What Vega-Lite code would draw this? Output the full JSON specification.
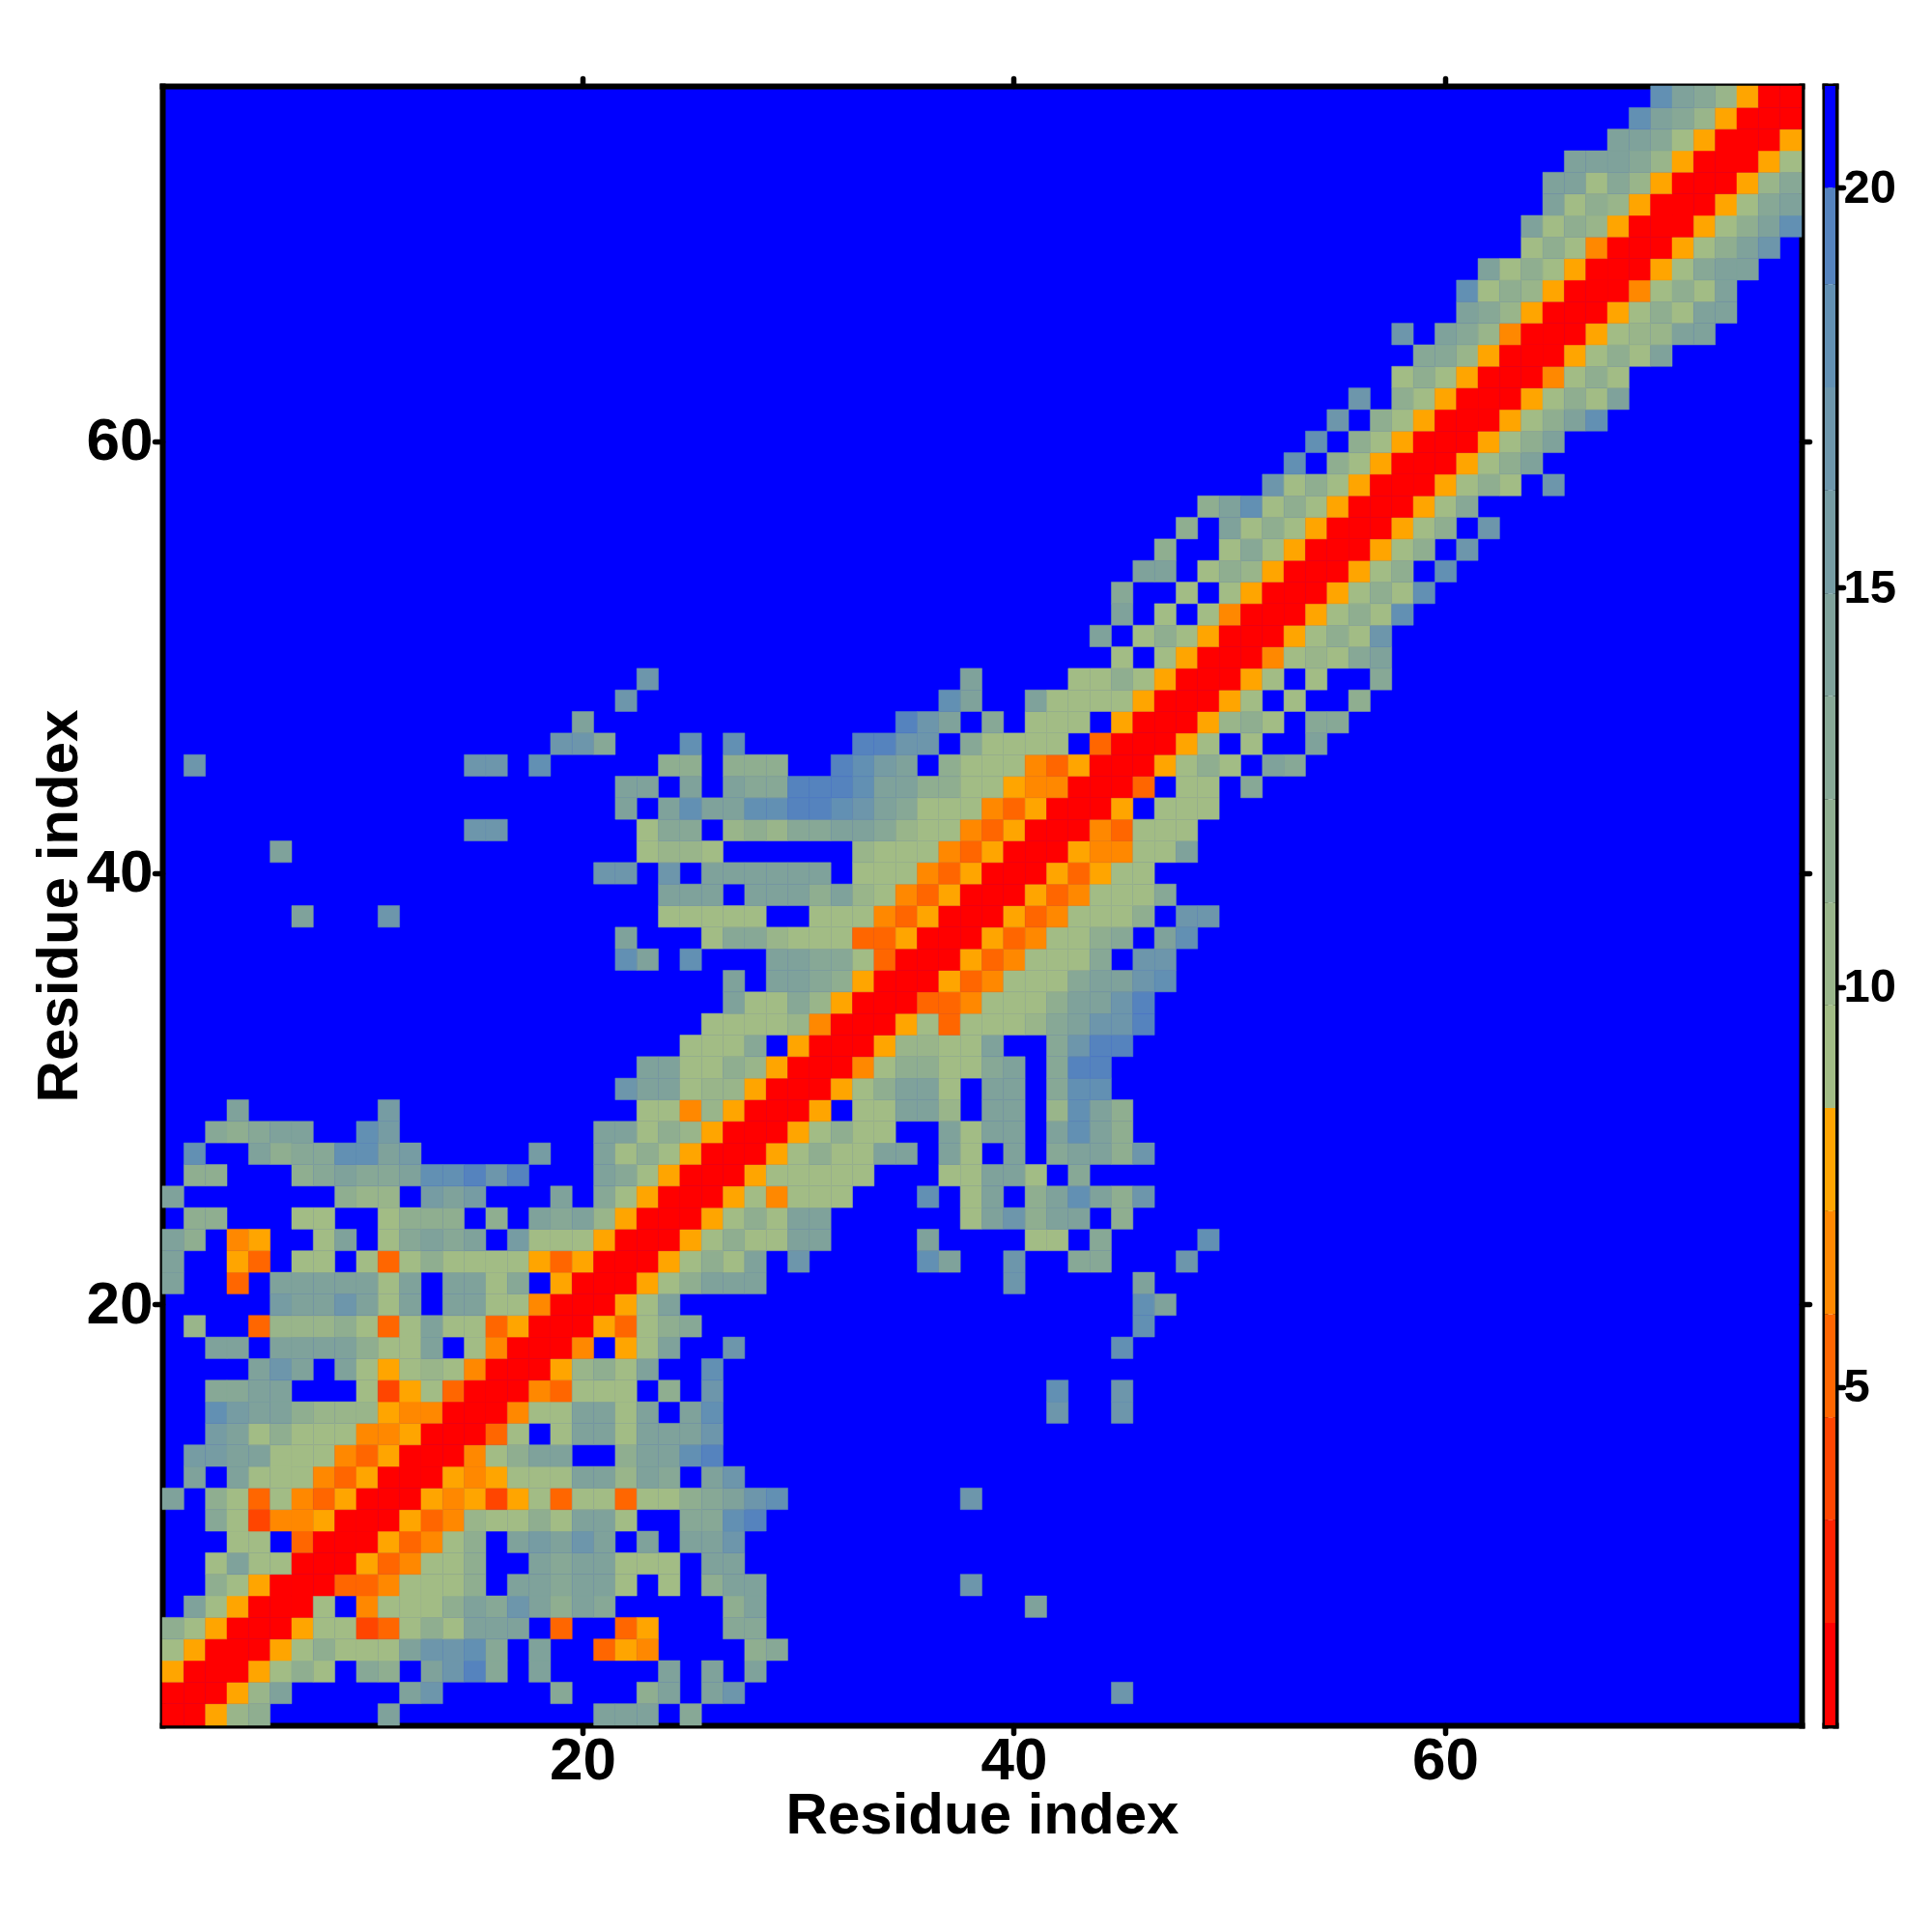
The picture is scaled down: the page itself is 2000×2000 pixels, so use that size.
{"$schema":"https://vega.github.io/schema/vega-lite/v6.json","background":"white","padding":{"left":31,"top":78,"right":10,"bottom":60},"spacing":13,"config":{"view":{"stroke":null},"axis":{"labelFont":"Liberation Sans","labelFontWeight":"bold","labelColor":"black","labelFontSize":62,"labelAngle":0,"labelPadding":2,"titleFont":"Liberation Sans","titleFontWeight":"bold","titleColor":"black","titleFontSize":60,"domainColor":"black","domainWidth":6,"domainCap":"square","tickColor":"black","tickWidth":5.5,"tickCap":"round","tickSize":8,"grid":false,"zindex":1}},"datasets":{"bar":[{"a":0,"b":1,"lo":0.77,"hi":2.05,"d":1.4},{"a":0,"b":1,"lo":2.05,"hi":3.34,"d":2.7},{"a":0,"b":1,"lo":3.34,"hi":4.62,"d":4},{"a":0,"b":1,"lo":4.62,"hi":5.91,"d":5.3},{"a":0,"b":1,"lo":5.91,"hi":7.2,"d":6.5},{"a":0,"b":1,"lo":7.2,"hi":8.49,"d":7.8},{"a":0,"b":1,"lo":8.49,"hi":9.78,"d":9.1},{"a":0,"b":1,"lo":9.78,"hi":11.06,"d":10.4},{"a":0,"b":1,"lo":11.06,"hi":12.35,"d":11.7},{"a":0,"b":1,"lo":12.35,"hi":13.64,"d":13},{"a":0,"b":1,"lo":13.64,"hi":14.92,"d":14.3},{"a":0,"b":1,"lo":14.92,"hi":16.21,"d":15.6},{"a":0,"b":1,"lo":16.21,"hi":17.5,"d":16.9},{"a":0,"b":1,"lo":17.5,"hi":18.79,"d":18.1},{"a":0,"b":1,"lo":18.79,"hi":20,"d":19.4},{"a":0,"b":1,"lo":20,"hi":21.27,"d":20.7}],"cells":[
{"y":1,"x":1,"d":1},{"y":1,"x":2,"d":1},{"y":1,"x":3,"d":8},{"y":1,"x":4,"d":10},{"y":1,"x":5,"d":12},{"y":1,"x":11,"d":14},{"y":1,"x":21,"d":14},{"y":1,"x":22,"d":14},{"y":1,"x":23,"d":14},{"y":1,"x":25,"d":13},
{"y":2,"x":1,"d":1},{"y":2,"x":2,"d":1},{"y":2,"x":3,"d":1},{"y":2,"x":4,"d":8},{"y":2,"x":5,"d":10},{"y":2,"x":6,"d":14},{"y":2,"x":12,"d":14},{"y":2,"x":13,"d":17},{"y":2,"x":19,"d":13},{"y":2,"x":23,"d":12},{"y":2,"x":24,"d":14},{"y":2,"x":26,"d":14},{"y":2,"x":27,"d":17},{"y":2,"x":45,"d":17},
{"y":3,"x":1,"d":8},{"y":3,"x":2,"d":1},{"y":3,"x":3,"d":1},{"y":3,"x":4,"d":1},{"y":3,"x":5,"d":8},{"y":3,"x":6,"d":9},{"y":3,"x":7,"d":12},{"y":3,"x":8,"d":9},{"y":3,"x":10,"d":13},{"y":3,"x":11,"d":12},{"y":3,"x":13,"d":14},{"y":3,"x":14,"d":17},{"y":3,"x":15,"d":19},{"y":3,"x":16,"d":13},{"y":3,"x":18,"d":14},{"y":3,"x":24,"d":14},{"y":3,"x":26,"d":14},{"y":3,"x":28,"d":14},
{"y":4,"x":1,"d":9},{"y":4,"x":2,"d":8},{"y":4,"x":3,"d":1},{"y":4,"x":4,"d":1},{"y":4,"x":5,"d":1},{"y":4,"x":6,"d":8},{"y":4,"x":7,"d":9},{"y":4,"x":8,"d":12},{"y":4,"x":9,"d":9},{"y":4,"x":10,"d":9},{"y":4,"x":11,"d":9},{"y":4,"x":12,"d":14},{"y":4,"x":13,"d":17},{"y":4,"x":14,"d":17},{"y":4,"x":15,"d":18},{"y":4,"x":16,"d":13},{"y":4,"x":18,"d":14},{"y":4,"x":21,"d":5},{"y":4,"x":22,"d":8},{"y":4,"x":23,"d":6},{"y":4,"x":28,"d":12},{"y":4,"x":29,"d":13},
{"y":5,"x":1,"d":12},{"y":5,"x":2,"d":9},{"y":5,"x":3,"d":8},{"y":5,"x":4,"d":1},{"y":5,"x":5,"d":1},{"y":5,"x":6,"d":1},{"y":5,"x":7,"d":8},{"y":5,"x":8,"d":9},{"y":5,"x":9,"d":9},{"y":5,"x":10,"d":4},{"y":5,"x":11,"d":5},{"y":5,"x":12,"d":9},{"y":5,"x":13,"d":12},{"y":5,"x":14,"d":9},{"y":5,"x":15,"d":14},{"y":5,"x":16,"d":14},{"y":5,"x":17,"d":14},{"y":5,"x":19,"d":5},{"y":5,"x":22,"d":5},{"y":5,"x":23,"d":8},{"y":5,"x":27,"d":13},{"y":5,"x":28,"d":13},
{"y":6,"x":2,"d":14},{"y":6,"x":3,"d":9},{"y":6,"x":4,"d":8},{"y":6,"x":5,"d":1},{"y":6,"x":6,"d":1},{"y":6,"x":7,"d":1},{"y":6,"x":8,"d":9},{"y":6,"x":10,"d":6},{"y":6,"x":11,"d":9},{"y":6,"x":12,"d":9},{"y":6,"x":13,"d":9},{"y":6,"x":14,"d":12},{"y":6,"x":15,"d":14},{"y":6,"x":16,"d":13},{"y":6,"x":17,"d":17},{"y":6,"x":18,"d":14},{"y":6,"x":19,"d":12},{"y":6,"x":20,"d":14},{"y":6,"x":21,"d":13},{"y":6,"x":27,"d":12},{"y":6,"x":28,"d":14},{"y":6,"x":41,"d":14},
{"y":7,"x":3,"d":12},{"y":7,"x":4,"d":9},{"y":7,"x":5,"d":8},{"y":7,"x":6,"d":1},{"y":7,"x":7,"d":1},{"y":7,"x":8,"d":1},{"y":7,"x":9,"d":5},{"y":7,"x":10,"d":5},{"y":7,"x":11,"d":6},{"y":7,"x":12,"d":9},{"y":7,"x":13,"d":9},{"y":7,"x":14,"d":9},{"y":7,"x":15,"d":12},{"y":7,"x":17,"d":14},{"y":7,"x":18,"d":14},{"y":7,"x":19,"d":13},{"y":7,"x":20,"d":14},{"y":7,"x":21,"d":14},{"y":7,"x":22,"d":9},{"y":7,"x":24,"d":9},{"y":7,"x":26,"d":12},{"y":7,"x":27,"d":14},{"y":7,"x":28,"d":14},{"y":7,"x":38,"d":17},
{"y":8,"x":3,"d":9},{"y":8,"x":4,"d":14},{"y":8,"x":5,"d":9},{"y":8,"x":6,"d":9},{"y":8,"x":7,"d":1},{"y":8,"x":8,"d":1},{"y":8,"x":9,"d":1},{"y":8,"x":10,"d":8},{"y":8,"x":11,"d":5},{"y":8,"x":12,"d":6},{"y":8,"x":13,"d":9},{"y":8,"x":14,"d":9},{"y":8,"x":15,"d":12},{"y":8,"x":18,"d":14},{"y":8,"x":19,"d":13},{"y":8,"x":20,"d":14},{"y":8,"x":21,"d":14},{"y":8,"x":22,"d":9},{"y":8,"x":23,"d":9},{"y":8,"x":24,"d":9},{"y":8,"x":26,"d":14},{"y":8,"x":27,"d":14},
{"y":9,"x":4,"d":9},{"y":9,"x":5,"d":9},{"y":9,"x":7,"d":5},{"y":9,"x":8,"d":1},{"y":9,"x":9,"d":1},{"y":9,"x":10,"d":1},{"y":9,"x":11,"d":8},{"y":9,"x":12,"d":5},{"y":9,"x":13,"d":6},{"y":9,"x":14,"d":9},{"y":9,"x":15,"d":12},{"y":9,"x":17,"d":14},{"y":9,"x":18,"d":15},{"y":9,"x":19,"d":14},{"y":9,"x":20,"d":17},{"y":9,"x":21,"d":14},{"y":9,"x":23,"d":14},{"y":9,"x":25,"d":14},{"y":9,"x":26,"d":14},{"y":9,"x":27,"d":17},
{"y":10,"x":3,"d":13},{"y":10,"x":4,"d":9},{"y":10,"x":5,"d":4},{"y":10,"x":6,"d":6},{"y":10,"x":7,"d":6},{"y":10,"x":8,"d":8},{"y":10,"x":9,"d":1},{"y":10,"x":10,"d":1},{"y":10,"x":11,"d":1},{"y":10,"x":12,"d":8},{"y":10,"x":13,"d":5},{"y":10,"x":14,"d":6},{"y":10,"x":15,"d":10},{"y":10,"x":16,"d":9},{"y":10,"x":17,"d":9},{"y":10,"x":18,"d":12},{"y":10,"x":19,"d":9},{"y":10,"x":20,"d":14},{"y":10,"x":21,"d":14},{"y":10,"x":22,"d":9},{"y":10,"x":25,"d":13},{"y":10,"x":26,"d":13},{"y":10,"x":27,"d":18},{"y":10,"x":28,"d":19},
{"y":11,"x":1,"d":14},{"y":11,"x":3,"d":12},{"y":11,"x":4,"d":9},{"y":11,"x":5,"d":5},{"y":11,"x":6,"d":9},{"y":11,"x":7,"d":6},{"y":11,"x":8,"d":5},{"y":11,"x":9,"d":8},{"y":11,"x":10,"d":1},{"y":11,"x":11,"d":1},{"y":11,"x":12,"d":1},{"y":11,"x":13,"d":8},{"y":11,"x":14,"d":6},{"y":11,"x":15,"d":8},{"y":11,"x":16,"d":4},{"y":11,"x":17,"d":8},{"y":11,"x":18,"d":9},{"y":11,"x":19,"d":5},{"y":11,"x":20,"d":9},{"y":11,"x":21,"d":9},{"y":11,"x":22,"d":5},{"y":11,"x":23,"d":9},{"y":11,"x":24,"d":9},{"y":11,"x":25,"d":12},{"y":11,"x":26,"d":13},{"y":11,"x":27,"d":14},{"y":11,"x":28,"d":17},{"y":11,"x":29,"d":18},{"y":11,"x":38,"d":17},
{"y":12,"x":2,"d":14},{"y":12,"x":4,"d":14},{"y":12,"x":5,"d":9},{"y":12,"x":6,"d":9},{"y":12,"x":7,"d":9},{"y":12,"x":8,"d":6},{"y":12,"x":9,"d":5},{"y":12,"x":10,"d":8},{"y":12,"x":11,"d":1},{"y":12,"x":12,"d":1},{"y":12,"x":13,"d":1},{"y":12,"x":14,"d":8},{"y":12,"x":15,"d":6},{"y":12,"x":16,"d":8},{"y":12,"x":17,"d":9},{"y":12,"x":18,"d":9},{"y":12,"x":19,"d":9},{"y":12,"x":20,"d":14},{"y":12,"x":21,"d":14},{"y":12,"x":22,"d":10},{"y":12,"x":23,"d":14},{"y":12,"x":24,"d":13},{"y":12,"x":26,"d":14},{"y":12,"x":27,"d":17},
{"y":13,"x":2,"d":15},{"y":13,"x":3,"d":15},{"y":13,"x":4,"d":14},{"y":13,"x":5,"d":14},{"y":13,"x":6,"d":9},{"y":13,"x":7,"d":9},{"y":13,"x":8,"d":9},{"y":13,"x":9,"d":6},{"y":13,"x":10,"d":5},{"y":13,"x":11,"d":8},{"y":13,"x":12,"d":1},{"y":13,"x":13,"d":1},{"y":13,"x":14,"d":1},{"y":13,"x":15,"d":6},{"y":13,"x":16,"d":9},{"y":13,"x":17,"d":12},{"y":13,"x":18,"d":14},{"y":13,"x":19,"d":14},{"y":13,"x":22,"d":12},{"y":13,"x":23,"d":14},{"y":13,"x":24,"d":14},{"y":13,"x":25,"d":18},{"y":13,"x":26,"d":19},
{"y":14,"x":3,"d":15},{"y":14,"x":4,"d":14},{"y":14,"x":5,"d":9},{"y":14,"x":6,"d":12},{"y":14,"x":7,"d":9},{"y":14,"x":8,"d":9},{"y":14,"x":9,"d":9},{"y":14,"x":10,"d":6},{"y":14,"x":11,"d":6},{"y":14,"x":12,"d":8},{"y":14,"x":13,"d":1},{"y":14,"x":14,"d":1},{"y":14,"x":15,"d":1},{"y":14,"x":16,"d":5},{"y":14,"x":17,"d":9},{"y":14,"x":19,"d":9},{"y":14,"x":20,"d":14},{"y":14,"x":21,"d":14},{"y":14,"x":22,"d":9},{"y":14,"x":23,"d":14},{"y":14,"x":24,"d":14},{"y":14,"x":25,"d":14},{"y":14,"x":26,"d":17},
{"y":15,"x":3,"d":18},{"y":15,"x":4,"d":15},{"y":15,"x":5,"d":14},{"y":15,"x":6,"d":14},{"y":15,"x":7,"d":12},{"y":15,"x":8,"d":10},{"y":15,"x":9,"d":10},{"y":15,"x":10,"d":10},{"y":15,"x":11,"d":8},{"y":15,"x":12,"d":6},{"y":15,"x":13,"d":6},{"y":15,"x":14,"d":1},{"y":15,"x":15,"d":1},{"y":15,"x":16,"d":1},{"y":15,"x":17,"d":6},{"y":15,"x":18,"d":9},{"y":15,"x":19,"d":9},{"y":15,"x":20,"d":14},{"y":15,"x":21,"d":14},{"y":15,"x":22,"d":9},{"y":15,"x":23,"d":14},{"y":15,"x":25,"d":14},{"y":15,"x":26,"d":18},{"y":15,"x":42,"d":17},{"y":15,"x":45,"d":17},
{"y":16,"x":3,"d":13},{"y":16,"x":4,"d":13},{"y":16,"x":5,"d":14},{"y":16,"x":6,"d":14},{"y":16,"x":10,"d":9},{"y":16,"x":11,"d":4},{"y":16,"x":12,"d":8},{"y":16,"x":13,"d":9},{"y":16,"x":14,"d":5},{"y":16,"x":15,"d":1},{"y":16,"x":16,"d":1},{"y":16,"x":17,"d":1},{"y":16,"x":18,"d":6},{"y":16,"x":19,"d":5},{"y":16,"x":20,"d":9},{"y":16,"x":21,"d":9},{"y":16,"x":22,"d":9},{"y":16,"x":24,"d":12},{"y":16,"x":26,"d":17},{"y":16,"x":42,"d":18},{"y":16,"x":45,"d":17},
{"y":17,"x":5,"d":14},{"y":17,"x":6,"d":17},{"y":17,"x":7,"d":14},{"y":17,"x":9,"d":14},{"y":17,"x":10,"d":9},{"y":17,"x":11,"d":8},{"y":17,"x":12,"d":9},{"y":17,"x":13,"d":10},{"y":17,"x":14,"d":9},{"y":17,"x":15,"d":6},{"y":17,"x":16,"d":1},{"y":17,"x":17,"d":1},{"y":17,"x":18,"d":1},{"y":17,"x":19,"d":8},{"y":17,"x":20,"d":10},{"y":17,"x":21,"d":12},{"y":17,"x":22,"d":9},{"y":17,"x":23,"d":14},{"y":17,"x":26,"d":18},
{"y":18,"x":3,"d":14},{"y":18,"x":4,"d":14},{"y":18,"x":6,"d":14},{"y":18,"x":7,"d":14},{"y":18,"x":8,"d":14},{"y":18,"x":9,"d":14},{"y":18,"x":10,"d":12},{"y":18,"x":11,"d":9},{"y":18,"x":12,"d":9},{"y":18,"x":13,"d":14},{"y":18,"x":15,"d":9},{"y":18,"x":16,"d":6},{"y":18,"x":17,"d":1},{"y":18,"x":18,"d":1},{"y":18,"x":19,"d":1},{"y":18,"x":20,"d":6},{"y":18,"x":22,"d":8},{"y":18,"x":23,"d":9},{"y":18,"x":24,"d":14},{"y":18,"x":27,"d":17},{"y":18,"x":45,"d":18},
{"y":19,"x":2,"d":10},{"y":19,"x":5,"d":5},{"y":19,"x":6,"d":10},{"y":19,"x":7,"d":10},{"y":19,"x":8,"d":10},{"y":19,"x":9,"d":12},{"y":19,"x":10,"d":9},{"y":19,"x":11,"d":5},{"y":19,"x":12,"d":9},{"y":19,"x":13,"d":14},{"y":19,"x":14,"d":9},{"y":19,"x":15,"d":9},{"y":19,"x":16,"d":5},{"y":19,"x":17,"d":8},{"y":19,"x":18,"d":1},{"y":19,"x":19,"d":1},{"y":19,"x":20,"d":1},{"y":19,"x":21,"d":8},{"y":19,"x":22,"d":5},{"y":19,"x":23,"d":9},{"y":19,"x":24,"d":12},{"y":19,"x":25,"d":13},{"y":19,"x":46,"d":18},
{"y":20,"x":6,"d":15},{"y":20,"x":7,"d":14},{"y":20,"x":8,"d":14},{"y":20,"x":9,"d":17},{"y":20,"x":10,"d":14},{"y":20,"x":11,"d":9},{"y":20,"x":12,"d":14},{"y":20,"x":14,"d":14},{"y":20,"x":15,"d":14},{"y":20,"x":16,"d":9},{"y":20,"x":17,"d":9},{"y":20,"x":18,"d":6},{"y":20,"x":19,"d":1},{"y":20,"x":20,"d":1},{"y":20,"x":21,"d":1},{"y":20,"x":22,"d":8},{"y":20,"x":23,"d":9},{"y":20,"x":24,"d":14},{"y":20,"x":46,"d":18},{"y":20,"x":47,"d":14},
{"y":21,"x":1,"d":14},{"y":21,"x":4,"d":5},{"y":21,"x":6,"d":14},{"y":21,"x":7,"d":14},{"y":21,"x":8,"d":14},{"y":21,"x":9,"d":14},{"y":21,"x":10,"d":14},{"y":21,"x":11,"d":9},{"y":21,"x":12,"d":14},{"y":21,"x":14,"d":14},{"y":21,"x":15,"d":14},{"y":21,"x":16,"d":9},{"y":21,"x":17,"d":13},{"y":21,"x":19,"d":8},{"y":21,"x":20,"d":1},{"y":21,"x":21,"d":1},{"y":21,"x":22,"d":1},{"y":21,"x":23,"d":8},{"y":21,"x":24,"d":9},{"y":21,"x":25,"d":12},{"y":21,"x":26,"d":14},{"y":21,"x":27,"d":14},{"y":21,"x":28,"d":14},{"y":21,"x":40,"d":17},{"y":21,"x":46,"d":14},
{"y":22,"x":1,"d":14},{"y":22,"x":4,"d":8},{"y":22,"x":5,"d":5},{"y":22,"x":7,"d":9},{"y":22,"x":8,"d":9},{"y":22,"x":10,"d":9},{"y":22,"x":11,"d":5},{"y":22,"x":12,"d":9},{"y":22,"x":13,"d":12},{"y":22,"x":14,"d":9},{"y":22,"x":15,"d":9},{"y":22,"x":16,"d":9},{"y":22,"x":17,"d":9},{"y":22,"x":18,"d":8},{"y":22,"x":19,"d":5},{"y":22,"x":20,"d":8},{"y":22,"x":21,"d":1},{"y":22,"x":22,"d":1},{"y":22,"x":23,"d":1},{"y":22,"x":24,"d":8},{"y":22,"x":25,"d":9},{"y":22,"x":26,"d":12},{"y":22,"x":27,"d":9},{"y":22,"x":28,"d":14},{"y":22,"x":30,"d":17},{"y":22,"x":36,"d":18},{"y":22,"x":37,"d":14},{"y":22,"x":40,"d":17},{"y":22,"x":43,"d":13},{"y":22,"x":44,"d":13},{"y":22,"x":48,"d":17},
{"y":23,"x":1,"d":14},{"y":23,"x":2,"d":12},{"y":23,"x":4,"d":6},{"y":23,"x":5,"d":8},{"y":23,"x":8,"d":9},{"y":23,"x":9,"d":14},{"y":23,"x":11,"d":9},{"y":23,"x":12,"d":13},{"y":23,"x":13,"d":14},{"y":23,"x":14,"d":13},{"y":23,"x":15,"d":14},{"y":23,"x":17,"d":15},{"y":23,"x":18,"d":9},{"y":23,"x":19,"d":9},{"y":23,"x":20,"d":9},{"y":23,"x":21,"d":8},{"y":23,"x":22,"d":1},{"y":23,"x":23,"d":1},{"y":23,"x":24,"d":1},{"y":23,"x":25,"d":8},{"y":23,"x":26,"d":9},{"y":23,"x":27,"d":12},{"y":23,"x":28,"d":9},{"y":23,"x":29,"d":9},{"y":23,"x":30,"d":14},{"y":23,"x":31,"d":14},{"y":23,"x":36,"d":14},{"y":23,"x":41,"d":9},{"y":23,"x":42,"d":9},{"y":23,"x":44,"d":13},{"y":23,"x":49,"d":18},
{"y":24,"x":2,"d":12},{"y":24,"x":3,"d":12},{"y":24,"x":7,"d":9},{"y":24,"x":8,"d":9},{"y":24,"x":11,"d":9},{"y":24,"x":12,"d":12},{"y":24,"x":13,"d":12},{"y":24,"x":14,"d":12},{"y":24,"x":16,"d":12},{"y":24,"x":18,"d":14},{"y":24,"x":19,"d":13},{"y":24,"x":20,"d":14},{"y":24,"x":21,"d":10},{"y":24,"x":22,"d":8},{"y":24,"x":23,"d":1},{"y":24,"x":24,"d":1},{"y":24,"x":25,"d":1},{"y":24,"x":26,"d":8},{"y":24,"x":27,"d":9},{"y":24,"x":28,"d":12},{"y":24,"x":29,"d":9},{"y":24,"x":30,"d":14},{"y":24,"x":31,"d":14},{"y":24,"x":38,"d":9},{"y":24,"x":39,"d":14},{"y":24,"x":40,"d":17},{"y":24,"x":41,"d":12},{"y":24,"x":42,"d":14},{"y":24,"x":43,"d":14},{"y":24,"x":45,"d":12},
{"y":25,"x":1,"d":14},{"y":25,"x":9,"d":12},{"y":25,"x":10,"d":10},{"y":25,"x":11,"d":10},{"y":25,"x":13,"d":15},{"y":25,"x":14,"d":14},{"y":25,"x":15,"d":15},{"y":25,"x":19,"d":14},{"y":25,"x":21,"d":13},{"y":25,"x":22,"d":9},{"y":25,"x":23,"d":8},{"y":25,"x":24,"d":1},{"y":25,"x":25,"d":1},{"y":25,"x":26,"d":1},{"y":25,"x":27,"d":8},{"y":25,"x":28,"d":9},{"y":25,"x":29,"d":6},{"y":25,"x":30,"d":9},{"y":25,"x":31,"d":9},{"y":25,"x":32,"d":9},{"y":25,"x":36,"d":18},{"y":25,"x":38,"d":9},{"y":25,"x":39,"d":14},{"y":25,"x":41,"d":12},{"y":25,"x":42,"d":14},{"y":25,"x":43,"d":18},{"y":25,"x":44,"d":14},{"y":25,"x":45,"d":12},{"y":25,"x":46,"d":17},
{"y":26,"x":2,"d":12},{"y":26,"x":3,"d":12},{"y":26,"x":7,"d":12},{"y":26,"x":8,"d":13},{"y":26,"x":9,"d":14},{"y":26,"x":10,"d":13},{"y":26,"x":11,"d":13},{"y":26,"x":12,"d":14},{"y":26,"x":13,"d":18},{"y":26,"x":14,"d":18},{"y":26,"x":15,"d":19},{"y":26,"x":16,"d":17},{"y":26,"x":17,"d":19},{"y":26,"x":21,"d":14},{"y":26,"x":22,"d":13},{"y":26,"x":23,"d":9},{"y":26,"x":24,"d":8},{"y":26,"x":25,"d":1},{"y":26,"x":26,"d":1},{"y":26,"x":27,"d":1},{"y":26,"x":28,"d":8},{"y":26,"x":29,"d":9},{"y":26,"x":30,"d":9},{"y":26,"x":31,"d":9},{"y":26,"x":32,"d":9},{"y":26,"x":33,"d":9},{"y":26,"x":37,"d":9},{"y":26,"x":38,"d":9},{"y":26,"x":39,"d":14},{"y":26,"x":40,"d":14},{"y":26,"x":41,"d":9},{"y":26,"x":43,"d":13},
{"y":27,"x":2,"d":18},{"y":27,"x":5,"d":14},{"y":27,"x":6,"d":12},{"y":27,"x":7,"d":13},{"y":27,"x":8,"d":13},{"y":27,"x":9,"d":18},{"y":27,"x":10,"d":18},{"y":27,"x":11,"d":14},{"y":27,"x":12,"d":15},{"y":27,"x":18,"d":15},{"y":27,"x":21,"d":14},{"y":27,"x":22,"d":9},{"y":27,"x":23,"d":12},{"y":27,"x":24,"d":9},{"y":27,"x":25,"d":8},{"y":27,"x":26,"d":1},{"y":27,"x":27,"d":1},{"y":27,"x":28,"d":1},{"y":27,"x":29,"d":8},{"y":27,"x":30,"d":9},{"y":27,"x":31,"d":12},{"y":27,"x":32,"d":9},{"y":27,"x":33,"d":9},{"y":27,"x":34,"d":14},{"y":27,"x":35,"d":14},{"y":27,"x":37,"d":14},{"y":27,"x":38,"d":9},{"y":27,"x":40,"d":14},{"y":27,"x":42,"d":13},{"y":27,"x":43,"d":14},{"y":27,"x":44,"d":14},{"y":27,"x":45,"d":12},{"y":27,"x":46,"d":17},
{"y":28,"x":3,"d":13},{"y":28,"x":4,"d":12},{"y":28,"x":5,"d":13},{"y":28,"x":6,"d":14},{"y":28,"x":7,"d":14},{"y":28,"x":10,"d":18},{"y":28,"x":11,"d":15},{"y":28,"x":21,"d":14},{"y":28,"x":22,"d":14},{"y":28,"x":23,"d":9},{"y":28,"x":24,"d":12},{"y":28,"x":25,"d":10},{"y":28,"x":26,"d":8},{"y":28,"x":27,"d":1},{"y":28,"x":28,"d":1},{"y":28,"x":29,"d":1},{"y":28,"x":30,"d":8},{"y":28,"x":31,"d":9},{"y":28,"x":32,"d":12},{"y":28,"x":33,"d":9},{"y":28,"x":34,"d":9},{"y":28,"x":37,"d":14},{"y":28,"x":38,"d":9},{"y":28,"x":39,"d":14},{"y":28,"x":40,"d":14},{"y":28,"x":42,"d":14},{"y":28,"x":43,"d":18},{"y":28,"x":44,"d":14},{"y":28,"x":45,"d":12},
{"y":29,"x":4,"d":14},{"y":29,"x":11,"d":15},{"y":29,"x":23,"d":9},{"y":29,"x":24,"d":9},{"y":29,"x":25,"d":6},{"y":29,"x":26,"d":10},{"y":29,"x":27,"d":8},{"y":29,"x":28,"d":1},{"y":29,"x":29,"d":1},{"y":29,"x":30,"d":1},{"y":29,"x":31,"d":8},{"y":29,"x":33,"d":9},{"y":29,"x":34,"d":9},{"y":29,"x":35,"d":14},{"y":29,"x":36,"d":14},{"y":29,"x":37,"d":10},{"y":29,"x":39,"d":14},{"y":29,"x":40,"d":14},{"y":29,"x":42,"d":10},{"y":29,"x":43,"d":18},{"y":29,"x":44,"d":14},{"y":29,"x":45,"d":12},
{"y":30,"x":22,"d":17},{"y":30,"x":23,"d":14},{"y":30,"x":24,"d":14},{"y":30,"x":25,"d":9},{"y":30,"x":26,"d":10},{"y":30,"x":27,"d":10},{"y":30,"x":28,"d":8},{"y":30,"x":29,"d":1},{"y":30,"x":30,"d":1},{"y":30,"x":31,"d":1},{"y":30,"x":32,"d":8},{"y":30,"x":33,"d":9},{"y":30,"x":34,"d":12},{"y":30,"x":35,"d":14},{"y":30,"x":36,"d":14},{"y":30,"x":37,"d":9},{"y":30,"x":39,"d":14},{"y":30,"x":40,"d":14},{"y":30,"x":42,"d":13},{"y":30,"x":43,"d":18},{"y":30,"x":44,"d":18},
{"y":31,"x":23,"d":14},{"y":31,"x":24,"d":14},{"y":31,"x":25,"d":9},{"y":31,"x":26,"d":9},{"y":31,"x":27,"d":12},{"y":31,"x":28,"d":10},{"y":31,"x":29,"d":8},{"y":31,"x":30,"d":1},{"y":31,"x":31,"d":1},{"y":31,"x":32,"d":1},{"y":31,"x":33,"d":6},{"y":31,"x":34,"d":9},{"y":31,"x":35,"d":12},{"y":31,"x":36,"d":12},{"y":31,"x":37,"d":9},{"y":31,"x":38,"d":9},{"y":31,"x":39,"d":13},{"y":31,"x":40,"d":14},{"y":31,"x":42,"d":13},{"y":31,"x":43,"d":19},{"y":31,"x":44,"d":19},
{"y":32,"x":25,"d":9},{"y":32,"x":26,"d":9},{"y":32,"x":27,"d":9},{"y":32,"x":28,"d":13},{"y":32,"x":30,"d":8},{"y":32,"x":31,"d":1},{"y":32,"x":32,"d":1},{"y":32,"x":33,"d":1},{"y":32,"x":34,"d":8},{"y":32,"x":35,"d":10},{"y":32,"x":36,"d":10},{"y":32,"x":37,"d":9},{"y":32,"x":38,"d":9},{"y":32,"x":39,"d":14},{"y":32,"x":42,"d":13},{"y":32,"x":43,"d":17},{"y":32,"x":44,"d":19},{"y":32,"x":45,"d":19},
{"y":33,"x":26,"d":9},{"y":33,"x":27,"d":9},{"y":33,"x":28,"d":9},{"y":33,"x":29,"d":9},{"y":33,"x":30,"d":10},{"y":33,"x":31,"d":6},{"y":33,"x":32,"d":1},{"y":33,"x":33,"d":1},{"y":33,"x":34,"d":1},{"y":33,"x":35,"d":8},{"y":33,"x":36,"d":9},{"y":33,"x":37,"d":5},{"y":33,"x":38,"d":9},{"y":33,"x":39,"d":9},{"y":33,"x":40,"d":9},{"y":33,"x":41,"d":10},{"y":33,"x":42,"d":13},{"y":33,"x":43,"d":14},{"y":33,"x":44,"d":17},{"y":33,"x":45,"d":17},{"y":33,"x":46,"d":19},
{"y":34,"x":27,"d":14},{"y":34,"x":28,"d":9},{"y":34,"x":29,"d":9},{"y":34,"x":30,"d":13},{"y":34,"x":31,"d":10},{"y":34,"x":32,"d":8},{"y":34,"x":33,"d":1},{"y":34,"x":34,"d":1},{"y":34,"x":35,"d":1},{"y":34,"x":36,"d":5},{"y":34,"x":37,"d":5},{"y":34,"x":38,"d":6},{"y":34,"x":39,"d":9},{"y":34,"x":40,"d":9},{"y":34,"x":41,"d":9},{"y":34,"x":42,"d":12},{"y":34,"x":43,"d":14},{"y":34,"x":44,"d":14},{"y":34,"x":45,"d":17},{"y":34,"x":46,"d":19},
{"y":35,"x":27,"d":14},{"y":35,"x":29,"d":14},{"y":35,"x":30,"d":14},{"y":35,"x":31,"d":13},{"y":35,"x":32,"d":12},{"y":35,"x":33,"d":8},{"y":35,"x":34,"d":1},{"y":35,"x":35,"d":1},{"y":35,"x":36,"d":1},{"y":35,"x":37,"d":8},{"y":35,"x":38,"d":5},{"y":35,"x":39,"d":6},{"y":35,"x":40,"d":9},{"y":35,"x":41,"d":9},{"y":35,"x":42,"d":9},{"y":35,"x":43,"d":13},{"y":35,"x":44,"d":14},{"y":35,"x":45,"d":14},{"y":35,"x":46,"d":17},{"y":35,"x":47,"d":18},
{"y":36,"x":22,"d":18},{"y":36,"x":23,"d":14},{"y":36,"x":25,"d":18},{"y":36,"x":29,"d":14},{"y":36,"x":30,"d":14},{"y":36,"x":31,"d":13},{"y":36,"x":32,"d":13},{"y":36,"x":33,"d":9},{"y":36,"x":34,"d":5},{"y":36,"x":35,"d":1},{"y":36,"x":36,"d":1},{"y":36,"x":37,"d":1},{"y":36,"x":38,"d":8},{"y":36,"x":39,"d":5},{"y":36,"x":40,"d":6},{"y":36,"x":41,"d":9},{"y":36,"x":42,"d":9},{"y":36,"x":43,"d":9},{"y":36,"x":44,"d":13},{"y":36,"x":46,"d":17},{"y":36,"x":47,"d":17},
{"y":37,"x":22,"d":14},{"y":37,"x":26,"d":9},{"y":37,"x":27,"d":13},{"y":37,"x":28,"d":13},{"y":37,"x":29,"d":10},{"y":37,"x":30,"d":9},{"y":37,"x":31,"d":9},{"y":37,"x":32,"d":9},{"y":37,"x":33,"d":5},{"y":37,"x":34,"d":5},{"y":37,"x":35,"d":8},{"y":37,"x":36,"d":1},{"y":37,"x":37,"d":1},{"y":37,"x":38,"d":1},{"y":37,"x":39,"d":8},{"y":37,"x":40,"d":5},{"y":37,"x":41,"d":6},{"y":37,"x":42,"d":9},{"y":37,"x":43,"d":9},{"y":37,"x":44,"d":12},{"y":37,"x":45,"d":13},{"y":37,"x":47,"d":14},{"y":37,"x":48,"d":18},
{"y":38,"x":7,"d":14},{"y":38,"x":11,"d":17},{"y":38,"x":24,"d":9},{"y":38,"x":25,"d":9},{"y":38,"x":26,"d":9},{"y":38,"x":27,"d":9},{"y":38,"x":28,"d":9},{"y":38,"x":31,"d":9},{"y":38,"x":32,"d":9},{"y":38,"x":33,"d":9},{"y":38,"x":34,"d":6},{"y":38,"x":35,"d":5},{"y":38,"x":36,"d":8},{"y":38,"x":37,"d":1},{"y":38,"x":38,"d":1},{"y":38,"x":39,"d":1},{"y":38,"x":40,"d":8},{"y":38,"x":41,"d":5},{"y":38,"x":42,"d":6},{"y":38,"x":43,"d":9},{"y":38,"x":44,"d":9},{"y":38,"x":45,"d":9},{"y":38,"x":46,"d":12},{"y":38,"x":48,"d":17},{"y":38,"x":49,"d":17},
{"y":39,"x":24,"d":14},{"y":39,"x":25,"d":14},{"y":39,"x":26,"d":14},{"y":39,"x":28,"d":14},{"y":39,"x":29,"d":14},{"y":39,"x":30,"d":14},{"y":39,"x":31,"d":12},{"y":39,"x":32,"d":14},{"y":39,"x":33,"d":10},{"y":39,"x":34,"d":9},{"y":39,"x":35,"d":6},{"y":39,"x":36,"d":5},{"y":39,"x":37,"d":8},{"y":39,"x":38,"d":1},{"y":39,"x":39,"d":1},{"y":39,"x":40,"d":1},{"y":39,"x":41,"d":8},{"y":39,"x":42,"d":5},{"y":39,"x":43,"d":6},{"y":39,"x":44,"d":9},{"y":39,"x":45,"d":9},{"y":39,"x":46,"d":9},{"y":39,"x":47,"d":13},
{"y":40,"x":21,"d":17},{"y":40,"x":22,"d":17},{"y":40,"x":24,"d":17},{"y":40,"x":26,"d":14},{"y":40,"x":27,"d":14},{"y":40,"x":28,"d":14},{"y":40,"x":29,"d":14},{"y":40,"x":30,"d":14},{"y":40,"x":31,"d":14},{"y":40,"x":33,"d":9},{"y":40,"x":34,"d":9},{"y":40,"x":35,"d":9},{"y":40,"x":36,"d":6},{"y":40,"x":37,"d":5},{"y":40,"x":38,"d":8},{"y":40,"x":39,"d":1},{"y":40,"x":40,"d":1},{"y":40,"x":41,"d":1},{"y":40,"x":42,"d":8},{"y":40,"x":43,"d":5},{"y":40,"x":44,"d":8},{"y":40,"x":45,"d":9},{"y":40,"x":46,"d":9},
{"y":41,"x":6,"d":14},{"y":41,"x":23,"d":9},{"y":41,"x":24,"d":10},{"y":41,"x":25,"d":10},{"y":41,"x":26,"d":9},{"y":41,"x":33,"d":10},{"y":41,"x":34,"d":9},{"y":41,"x":35,"d":9},{"y":41,"x":36,"d":9},{"y":41,"x":37,"d":6},{"y":41,"x":38,"d":5},{"y":41,"x":39,"d":8},{"y":41,"x":40,"d":1},{"y":41,"x":41,"d":1},{"y":41,"x":42,"d":1},{"y":41,"x":43,"d":8},{"y":41,"x":44,"d":6},{"y":41,"x":45,"d":6},{"y":41,"x":46,"d":9},{"y":41,"x":47,"d":9},{"y":41,"x":48,"d":14},
{"y":42,"x":15,"d":17},{"y":42,"x":16,"d":17},{"y":42,"x":23,"d":9},{"y":42,"x":24,"d":13},{"y":42,"x":25,"d":13},{"y":42,"x":27,"d":10},{"y":42,"x":28,"d":12},{"y":42,"x":29,"d":10},{"y":42,"x":30,"d":13},{"y":42,"x":31,"d":13},{"y":42,"x":32,"d":14},{"y":42,"x":33,"d":14},{"y":42,"x":34,"d":13},{"y":42,"x":35,"d":10},{"y":42,"x":36,"d":9},{"y":42,"x":37,"d":9},{"y":42,"x":38,"d":6},{"y":42,"x":39,"d":5},{"y":42,"x":40,"d":8},{"y":42,"x":41,"d":1},{"y":42,"x":42,"d":1},{"y":42,"x":43,"d":1},{"y":42,"x":44,"d":6},{"y":42,"x":45,"d":5},{"y":42,"x":46,"d":9},{"y":42,"x":47,"d":9},{"y":42,"x":48,"d":9},
{"y":43,"x":22,"d":14},{"y":43,"x":24,"d":14},{"y":43,"x":25,"d":18},{"y":43,"x":26,"d":14},{"y":43,"x":27,"d":14},{"y":43,"x":28,"d":18},{"y":43,"x":29,"d":18},{"y":43,"x":30,"d":19},{"y":43,"x":31,"d":19},{"y":43,"x":32,"d":18},{"y":43,"x":33,"d":17},{"y":43,"x":34,"d":14},{"y":43,"x":35,"d":13},{"y":43,"x":36,"d":9},{"y":43,"x":37,"d":9},{"y":43,"x":38,"d":9},{"y":43,"x":39,"d":6},{"y":43,"x":40,"d":5},{"y":43,"x":41,"d":8},{"y":43,"x":42,"d":1},{"y":43,"x":43,"d":1},{"y":43,"x":44,"d":1},{"y":43,"x":45,"d":8},{"y":43,"x":47,"d":9},{"y":43,"x":48,"d":9},{"y":43,"x":49,"d":9},
{"y":44,"x":22,"d":14},{"y":44,"x":23,"d":14},{"y":44,"x":25,"d":14},{"y":44,"x":27,"d":14},{"y":44,"x":28,"d":13},{"y":44,"x":29,"d":13},{"y":44,"x":30,"d":19},{"y":44,"x":31,"d":19},{"y":44,"x":32,"d":19},{"y":44,"x":33,"d":18},{"y":44,"x":34,"d":14},{"y":44,"x":35,"d":14},{"y":44,"x":36,"d":12},{"y":44,"x":37,"d":12},{"y":44,"x":38,"d":9},{"y":44,"x":39,"d":9},{"y":44,"x":40,"d":8},{"y":44,"x":41,"d":6},{"y":44,"x":42,"d":6},{"y":44,"x":43,"d":1},{"y":44,"x":44,"d":1},{"y":44,"x":45,"d":1},{"y":44,"x":46,"d":5},{"y":44,"x":48,"d":9},{"y":44,"x":49,"d":9},{"y":44,"x":51,"d":13},
{"y":45,"x":2,"d":17},{"y":45,"x":15,"d":17},{"y":45,"x":16,"d":17},{"y":45,"x":18,"d":18},{"y":45,"x":24,"d":12},{"y":45,"x":25,"d":12},{"y":45,"x":27,"d":12},{"y":45,"x":28,"d":12},{"y":45,"x":29,"d":12},{"y":45,"x":32,"d":19},{"y":45,"x":33,"d":18},{"y":45,"x":34,"d":15},{"y":45,"x":35,"d":14},{"y":45,"x":37,"d":12},{"y":45,"x":38,"d":9},{"y":45,"x":39,"d":9},{"y":45,"x":40,"d":9},{"y":45,"x":41,"d":6},{"y":45,"x":42,"d":5},{"y":45,"x":43,"d":8},{"y":45,"x":44,"d":1},{"y":45,"x":45,"d":1},{"y":45,"x":46,"d":1},{"y":45,"x":47,"d":8},{"y":45,"x":48,"d":9},{"y":45,"x":49,"d":12},{"y":45,"x":50,"d":9},{"y":45,"x":52,"d":14},{"y":45,"x":53,"d":13},
{"y":46,"x":19,"d":17},{"y":46,"x":20,"d":17},{"y":46,"x":21,"d":13},{"y":46,"x":25,"d":18},{"y":46,"x":27,"d":18},{"y":46,"x":33,"d":19},{"y":46,"x":34,"d":19},{"y":46,"x":35,"d":17},{"y":46,"x":36,"d":17},{"y":46,"x":38,"d":13},{"y":46,"x":39,"d":9},{"y":46,"x":40,"d":9},{"y":46,"x":41,"d":9},{"y":46,"x":42,"d":9},{"y":46,"x":44,"d":5},{"y":46,"x":45,"d":1},{"y":46,"x":46,"d":1},{"y":46,"x":47,"d":1},{"y":46,"x":48,"d":8},{"y":46,"x":49,"d":9},{"y":46,"x":51,"d":9},{"y":46,"x":54,"d":14},
{"y":47,"x":20,"d":14},{"y":47,"x":35,"d":19},{"y":47,"x":36,"d":17},{"y":47,"x":37,"d":14},{"y":47,"x":39,"d":13},{"y":47,"x":41,"d":9},{"y":47,"x":42,"d":9},{"y":47,"x":43,"d":9},{"y":47,"x":45,"d":8},{"y":47,"x":46,"d":1},{"y":47,"x":47,"d":1},{"y":47,"x":48,"d":1},{"y":47,"x":49,"d":8},{"y":47,"x":50,"d":10},{"y":47,"x":51,"d":12},{"y":47,"x":52,"d":9},{"y":47,"x":54,"d":13},{"y":47,"x":55,"d":13},
{"y":48,"x":22,"d":17},{"y":48,"x":37,"d":18},{"y":48,"x":38,"d":14},{"y":48,"x":41,"d":14},{"y":48,"x":42,"d":9},{"y":48,"x":43,"d":9},{"y":48,"x":44,"d":9},{"y":48,"x":45,"d":9},{"y":48,"x":46,"d":8},{"y":48,"x":47,"d":1},{"y":48,"x":48,"d":1},{"y":48,"x":49,"d":1},{"y":48,"x":50,"d":8},{"y":48,"x":51,"d":9},{"y":48,"x":53,"d":9},{"y":48,"x":56,"d":12},
{"y":49,"x":23,"d":17},{"y":49,"x":38,"d":14},{"y":49,"x":43,"d":9},{"y":49,"x":44,"d":9},{"y":49,"x":45,"d":12},{"y":49,"x":46,"d":9},{"y":49,"x":47,"d":8},{"y":49,"x":48,"d":1},{"y":49,"x":49,"d":1},{"y":49,"x":50,"d":1},{"y":49,"x":51,"d":8},{"y":49,"x":52,"d":9},{"y":49,"x":54,"d":9},{"y":49,"x":57,"d":13},
{"y":50,"x":45,"d":9},{"y":50,"x":47,"d":9},{"y":50,"x":48,"d":8},{"y":50,"x":49,"d":1},{"y":50,"x":50,"d":1},{"y":50,"x":51,"d":1},{"y":50,"x":52,"d":6},{"y":50,"x":53,"d":9},{"y":50,"x":54,"d":10},{"y":50,"x":55,"d":9},{"y":50,"x":56,"d":13},{"y":50,"x":57,"d":14},
{"y":51,"x":44,"d":14},{"y":51,"x":46,"d":9},{"y":51,"x":47,"d":12},{"y":51,"x":48,"d":9},{"y":51,"x":49,"d":8},{"y":51,"x":50,"d":1},{"y":51,"x":51,"d":1},{"y":51,"x":52,"d":1},{"y":51,"x":53,"d":8},{"y":51,"x":54,"d":9},{"y":51,"x":55,"d":12},{"y":51,"x":56,"d":9},{"y":51,"x":57,"d":17},
{"y":52,"x":45,"d":14},{"y":52,"x":47,"d":9},{"y":52,"x":49,"d":9},{"y":52,"x":50,"d":6},{"y":52,"x":51,"d":1},{"y":52,"x":52,"d":1},{"y":52,"x":53,"d":1},{"y":52,"x":54,"d":8},{"y":52,"x":55,"d":9},{"y":52,"x":56,"d":12},{"y":52,"x":57,"d":9},{"y":52,"x":58,"d":18},
{"y":53,"x":45,"d":13},{"y":53,"x":48,"d":9},{"y":53,"x":50,"d":9},{"y":53,"x":51,"d":8},{"y":53,"x":52,"d":1},{"y":53,"x":53,"d":1},{"y":53,"x":54,"d":1},{"y":53,"x":55,"d":8},{"y":53,"x":56,"d":9},{"y":53,"x":57,"d":12},{"y":53,"x":58,"d":9},{"y":53,"x":59,"d":18},
{"y":54,"x":46,"d":14},{"y":54,"x":47,"d":14},{"y":54,"x":49,"d":9},{"y":54,"x":50,"d":12},{"y":54,"x":51,"d":10},{"y":54,"x":52,"d":8},{"y":54,"x":53,"d":1},{"y":54,"x":54,"d":1},{"y":54,"x":55,"d":1},{"y":54,"x":56,"d":8},{"y":54,"x":57,"d":9},{"y":54,"x":58,"d":12},{"y":54,"x":60,"d":18},
{"y":55,"x":47,"d":12},{"y":55,"x":50,"d":9},{"y":55,"x":51,"d":13},{"y":55,"x":52,"d":9},{"y":55,"x":53,"d":8},{"y":55,"x":54,"d":1},{"y":55,"x":55,"d":1},{"y":55,"x":56,"d":1},{"y":55,"x":57,"d":8},{"y":55,"x":58,"d":9},{"y":55,"x":59,"d":12},{"y":55,"x":61,"d":17},
{"y":56,"x":48,"d":12},{"y":56,"x":50,"d":14},{"y":56,"x":51,"d":9},{"y":56,"x":52,"d":12},{"y":56,"x":53,"d":9},{"y":56,"x":54,"d":8},{"y":56,"x":55,"d":1},{"y":56,"x":56,"d":1},{"y":56,"x":57,"d":1},{"y":56,"x":58,"d":8},{"y":56,"x":59,"d":9},{"y":56,"x":60,"d":12},{"y":56,"x":62,"d":17},
{"y":57,"x":49,"d":12},{"y":57,"x":50,"d":14},{"y":57,"x":51,"d":18},{"y":57,"x":52,"d":9},{"y":57,"x":53,"d":12},{"y":57,"x":54,"d":9},{"y":57,"x":55,"d":8},{"y":57,"x":56,"d":1},{"y":57,"x":57,"d":1},{"y":57,"x":58,"d":1},{"y":57,"x":59,"d":8},{"y":57,"x":60,"d":9},{"y":57,"x":61,"d":13},
{"y":58,"x":52,"d":17},{"y":58,"x":53,"d":9},{"y":58,"x":54,"d":12},{"y":58,"x":55,"d":9},{"y":58,"x":56,"d":8},{"y":58,"x":57,"d":1},{"y":58,"x":58,"d":1},{"y":58,"x":59,"d":1},{"y":58,"x":60,"d":8},{"y":58,"x":61,"d":9},{"y":58,"x":62,"d":12},{"y":58,"x":63,"d":9},{"y":58,"x":65,"d":17},
{"y":59,"x":53,"d":18},{"y":59,"x":55,"d":12},{"y":59,"x":56,"d":9},{"y":59,"x":57,"d":8},{"y":59,"x":58,"d":1},{"y":59,"x":59,"d":1},{"y":59,"x":60,"d":1},{"y":59,"x":61,"d":8},{"y":59,"x":62,"d":9},{"y":59,"x":63,"d":12},{"y":59,"x":64,"d":14},
{"y":60,"x":54,"d":18},{"y":60,"x":56,"d":12},{"y":60,"x":57,"d":9},{"y":60,"x":58,"d":8},{"y":60,"x":59,"d":1},{"y":60,"x":60,"d":1},{"y":60,"x":61,"d":1},{"y":60,"x":62,"d":8},{"y":60,"x":63,"d":9},{"y":60,"x":64,"d":12},{"y":60,"x":65,"d":14},
{"y":61,"x":55,"d":17},{"y":61,"x":57,"d":12},{"y":61,"x":58,"d":9},{"y":61,"x":59,"d":8},{"y":61,"x":60,"d":1},{"y":61,"x":61,"d":1},{"y":61,"x":62,"d":1},{"y":61,"x":63,"d":8},{"y":61,"x":64,"d":9},{"y":61,"x":65,"d":12},{"y":61,"x":66,"d":14},{"y":61,"x":67,"d":18},
{"y":62,"x":56,"d":17},{"y":62,"x":58,"d":12},{"y":62,"x":59,"d":9},{"y":62,"x":60,"d":8},{"y":62,"x":61,"d":1},{"y":62,"x":62,"d":1},{"y":62,"x":63,"d":1},{"y":62,"x":64,"d":8},{"y":62,"x":65,"d":9},{"y":62,"x":66,"d":12},{"y":62,"x":67,"d":9},{"y":62,"x":68,"d":14},
{"y":63,"x":58,"d":9},{"y":63,"x":59,"d":12},{"y":63,"x":60,"d":9},{"y":63,"x":61,"d":8},{"y":63,"x":62,"d":1},{"y":63,"x":63,"d":1},{"y":63,"x":64,"d":1},{"y":63,"x":65,"d":6},{"y":63,"x":66,"d":9},{"y":63,"x":67,"d":12},{"y":63,"x":68,"d":9},
{"y":64,"x":59,"d":13},{"y":64,"x":60,"d":13},{"y":64,"x":61,"d":10},{"y":64,"x":62,"d":8},{"y":64,"x":63,"d":1},{"y":64,"x":64,"d":1},{"y":64,"x":65,"d":1},{"y":64,"x":66,"d":8},{"y":64,"x":67,"d":9},{"y":64,"x":68,"d":12},{"y":64,"x":69,"d":9},{"y":64,"x":70,"d":14},
{"y":65,"x":58,"d":17},{"y":65,"x":60,"d":14},{"y":65,"x":61,"d":13},{"y":65,"x":62,"d":10},{"y":65,"x":63,"d":6},{"y":65,"x":64,"d":1},{"y":65,"x":65,"d":1},{"y":65,"x":66,"d":1},{"y":65,"x":67,"d":8},{"y":65,"x":68,"d":9},{"y":65,"x":69,"d":10},{"y":65,"x":70,"d":10},{"y":65,"x":71,"d":14},{"y":65,"x":72,"d":14},
{"y":66,"x":61,"d":14},{"y":66,"x":62,"d":13},{"y":66,"x":63,"d":10},{"y":66,"x":64,"d":8},{"y":66,"x":65,"d":1},{"y":66,"x":66,"d":1},{"y":66,"x":67,"d":1},{"y":66,"x":68,"d":8},{"y":66,"x":69,"d":9},{"y":66,"x":70,"d":12},{"y":66,"x":71,"d":9},{"y":66,"x":72,"d":14},{"y":66,"x":73,"d":14},
{"y":67,"x":61,"d":18},{"y":67,"x":62,"d":9},{"y":67,"x":63,"d":12},{"y":67,"x":64,"d":10},{"y":67,"x":65,"d":8},{"y":67,"x":66,"d":1},{"y":67,"x":67,"d":1},{"y":67,"x":68,"d":1},{"y":67,"x":69,"d":6},{"y":67,"x":70,"d":9},{"y":67,"x":71,"d":12},{"y":67,"x":72,"d":9},{"y":67,"x":73,"d":14},
{"y":68,"x":62,"d":14},{"y":68,"x":63,"d":9},{"y":68,"x":64,"d":12},{"y":68,"x":65,"d":9},{"y":68,"x":66,"d":8},{"y":68,"x":67,"d":1},{"y":68,"x":68,"d":1},{"y":68,"x":69,"d":1},{"y":68,"x":70,"d":8},{"y":68,"x":71,"d":9},{"y":68,"x":72,"d":13},{"y":68,"x":73,"d":14},{"y":68,"x":74,"d":14},
{"y":69,"x":64,"d":9},{"y":69,"x":65,"d":12},{"y":69,"x":66,"d":9},{"y":69,"x":67,"d":6},{"y":69,"x":68,"d":1},{"y":69,"x":69,"d":1},{"y":69,"x":70,"d":1},{"y":69,"x":71,"d":8},{"y":69,"x":72,"d":9},{"y":69,"x":73,"d":12},{"y":69,"x":74,"d":14},{"y":69,"x":75,"d":17},
{"y":70,"x":64,"d":14},{"y":70,"x":65,"d":9},{"y":70,"x":66,"d":12},{"y":70,"x":67,"d":10},{"y":70,"x":68,"d":8},{"y":70,"x":69,"d":1},{"y":70,"x":70,"d":1},{"y":70,"x":71,"d":1},{"y":70,"x":72,"d":8},{"y":70,"x":73,"d":9},{"y":70,"x":74,"d":12},{"y":70,"x":75,"d":14},{"y":70,"x":76,"d":18},
{"y":71,"x":65,"d":14},{"y":71,"x":66,"d":9},{"y":71,"x":67,"d":12},{"y":71,"x":68,"d":10},{"y":71,"x":69,"d":8},{"y":71,"x":70,"d":1},{"y":71,"x":71,"d":1},{"y":71,"x":72,"d":1},{"y":71,"x":73,"d":8},{"y":71,"x":74,"d":9},{"y":71,"x":75,"d":13},{"y":71,"x":76,"d":14},
{"y":72,"x":65,"d":14},{"y":72,"x":66,"d":14},{"y":72,"x":67,"d":9},{"y":72,"x":68,"d":13},{"y":72,"x":69,"d":10},{"y":72,"x":70,"d":8},{"y":72,"x":71,"d":1},{"y":72,"x":72,"d":1},{"y":72,"x":73,"d":1},{"y":72,"x":74,"d":8},{"y":72,"x":75,"d":10},{"y":72,"x":76,"d":13},
{"y":73,"x":66,"d":14},{"y":73,"x":67,"d":14},{"y":73,"x":68,"d":14},{"y":73,"x":69,"d":13},{"y":73,"x":70,"d":10},{"y":73,"x":71,"d":8},{"y":73,"x":72,"d":1},{"y":73,"x":73,"d":1},{"y":73,"x":74,"d":1},{"y":73,"x":75,"d":8},{"y":73,"x":76,"d":9},
{"y":74,"x":68,"d":14},{"y":74,"x":69,"d":14},{"y":74,"x":70,"d":13},{"y":74,"x":71,"d":9},{"y":74,"x":72,"d":8},{"y":74,"x":73,"d":1},{"y":74,"x":74,"d":1},{"y":74,"x":75,"d":1},{"y":74,"x":76,"d":8},
{"y":75,"x":69,"d":18},{"y":75,"x":70,"d":14},{"y":75,"x":71,"d":13},{"y":75,"x":72,"d":10},{"y":75,"x":73,"d":8},{"y":75,"x":74,"d":1},{"y":75,"x":75,"d":1},{"y":75,"x":76,"d":1},
{"y":76,"x":70,"d":18},{"y":76,"x":71,"d":14},{"y":76,"x":72,"d":13},{"y":76,"x":73,"d":10},{"y":76,"x":74,"d":8},{"y":76,"x":75,"d":1},{"y":76,"x":76,"d":1}
]},"hconcat":[{"width":1697,"height":1697,"view":{"fill":"#0000FF","stroke":null},"data":{"name":"cells"},"resolve":{"axis":{"x":"independent","y":"independent"}},"layer":[{"mark":{"type":"rect","strokeWidth":0.5},"encoding":{"x":{"field":"x","type":"ordinal","scale":{"domain":[1,2,3,4,5,6,7,8,9,10,11,12,13,14,15,16,17,18,19,20,21,22,23,24,25,26,27,28,29,30,31,32,33,34,35,36,37,38,39,40,41,42,43,44,45,46,47,48,49,50,51,52,53,54,55,56,57,58,59,60,61,62,63,64,65,66,67,68,69,70,71,72,73,74,75,76],"paddingInner":0,"paddingOuter":0},"axis":{"orient":"bottom","values":[20,40,60],"title":"Residue index","titlePadding":-3,"labelPadding":-2}},"y":{"field":"y","type":"ordinal","scale":{"domain":[76,75,74,73,72,71,70,69,68,67,66,65,64,63,62,61,60,59,58,57,56,55,54,53,52,51,50,49,48,47,46,45,44,43,42,41,40,39,38,37,36,35,34,33,32,31,30,29,28,27,26,25,24,23,22,21,20,19,18,17,16,15,14,13,12,11,10,9,8,7,6,5,4,3,2,1],"paddingInner":0,"paddingOuter":0},"axis":{"orient":"left","values":[20,40,60],"title":"Residue index","titlePadding":-3}},"color":{"field":"d","type":"quantitative","legend":null,"scale":{"type":"threshold","domain":[2.05,3.34,4.62,5.91,7.2,8.49,9.78,11.06,12.35,13.64,14.92,16.21,17.5,18.79,20],"range":["#FF0000","#FF2200","#FF4500","#FF6600","#FF8800","#FFA500","#A2BC85","#99B58A","#8FAE90","#87A896","#7FA29B","#769CA3","#6D96AB","#6290B3","#5583BE","#0000FF"]}},"stroke":{"field":"d","type":"quantitative","legend":null,"scale":{"type":"threshold","domain":[2.05,3.34,4.62,5.91,7.2,8.49,9.78,11.06,12.35,13.64,14.92,16.21,17.5,18.79,20],"range":["#FF0000","#FF2200","#FF4500","#FF6600","#FF8800","#FFA500","#A2BC85","#99B58A","#8FAE90","#87A896","#7FA29B","#769CA3","#6D96AB","#6290B3","#5583BE","#0000FF"]}}}},{"transform":[{"filter":"datum.x==1&&datum.y==1"}],"mark":{"type":"rect","opacity":0},"encoding":{"x":{"field":"x","type":"ordinal","axis":{"orient":"top","values":[20,40,60],"title":null,"labels":false}},"y":{"field":"y","type":"ordinal","axis":{"orient":"right","values":[20,40,60],"title":null,"labels":false}}}}]},{"width":11,"height":1697,"data":{"name":"bar"},"resolve":{"axis":{"x":"independent","y":"independent"}},"layer":[{"mark":{"type":"rect","strokeWidth":0.5},"encoding":{"x":{"field":"a","type":"quantitative","scale":{"domain":[0,1],"nice":false},"axis":{"orient":"bottom","title":null,"labels":false,"ticks":false}},"x2":{"field":"b"},"y":{"field":"lo","type":"quantitative","scale":{"domain":[0.77,21.27],"nice":false,"zero":false},"axis":{"orient":"left","title":null,"labels":false,"ticks":false}},"y2":{"field":"hi"},"color":{"field":"d","type":"quantitative","legend":null,"scale":{"type":"threshold","domain":[2.05,3.34,4.62,5.91,7.2,8.49,9.78,11.06,12.35,13.64,14.92,16.21,17.5,18.79,20],"range":["#FF0000","#FF2200","#FF4500","#FF6600","#FF8800","#FFA500","#A2BC85","#99B58A","#8FAE90","#87A896","#7FA29B","#769CA3","#6D96AB","#6290B3","#5583BE","#0000FF"]}}}},{"mark":{"type":"rect","opacity":0},"encoding":{"x":{"field":"a","type":"quantitative","axis":{"orient":"top","title":null,"labels":false,"ticks":false}},"x2":{"field":"b"},"y":{"field":"lo","type":"quantitative","axis":{"orient":"right","title":null,"values":[5,10,15,20],"labelFontSize":49,"labelPadding":0,"tickSize":8}},"y2":{"field":"hi"}}}]}]}
